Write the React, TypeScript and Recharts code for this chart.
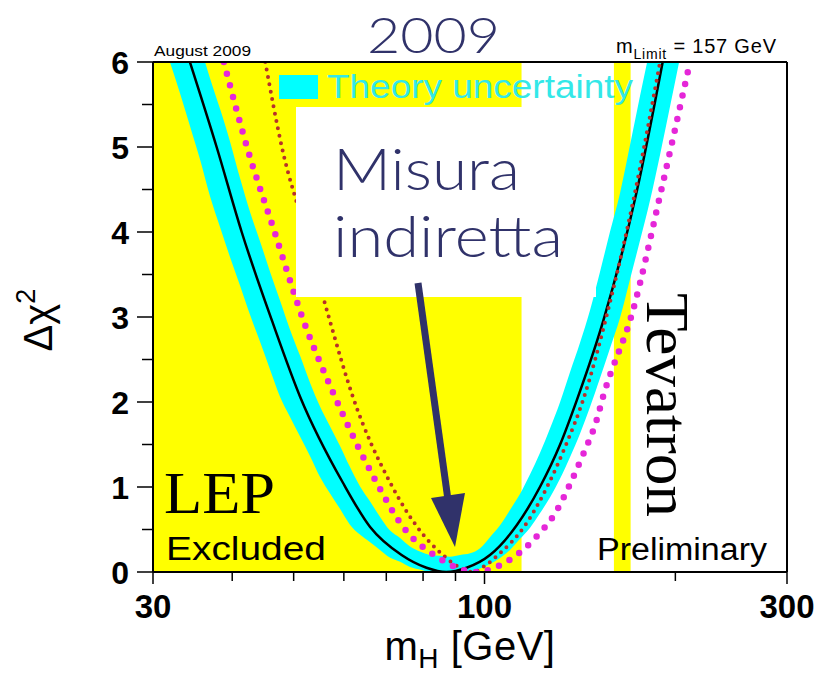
import { ComposedChart, Area, Line, XAxis, YAxis, ReferenceArea, ReferenceLine } from 'recharts'

// mH [GeV] / delta chi^2 (August 2009)
const fitMass = [34.3, 37.8, 41.4, 46.2, 51.2, 59.8, 66, 74, 81, 87, 93.7, 102, 112.4, 122.3, 131.6, 139.8, 154, 174, 191]
const fitChi2 = [6, 5, 4, 2.96, 2.06, 1.05, 0.53, 0.2, 0.05, 0, 0.05, 0.2, 0.55, 1.0, 1.5, 2.02, 2.96, 4.49, 6]

// theory uncertainty band: lower / upper edge at each mass
const bandMass = [31.9, 33.1, 34.3, 35.6, 36.9, 38.3, 39.7, 41.2, 42.7, 44.3, 45.9, 47.6, 49.3, 51.2, 53.1, 55.0, 57.1, 59.2, 61.3, 63.6, 66.0, 68.4, 70.9, 73.6, 76.3, 79.1, 82.0, 85.1, 88.2, 91.5, 94.9, 98.4, 102, 105.8, 109.7, 113.8, 118, 122.3, 126.9, 131.6, 136.4, 141.5, 146.7, 152.1, 157.7, 163.6, 169.6, 175.9, 182.4, 189.2, 196.2, 203.4]
const bandLow = [6, 5.63, 5.25, 4.85, 4.42, 4.05, 3.7, 3.36, 3.02, 2.7, 2.38, 2.06, 1.83, 1.59, 1.36, 1.12, 0.92, 0.74, 0.56, 0.44, 0.35, 0.26, 0.17, 0.12, 0.06, 0.03, 0, 0, 0, 0, 0, 0.04, 0.095, 0.165, 0.26, 0.39, 0.52, 0.69, 0.88, 1.1, 1.35, 1.63, 1.94, 2.28, 2.63, 2.99, 3.44, 3.9, 4.37, 4.91, 5.48, 6.05]
const bandHigh = [7.1, 6.9, 6.56, 6.19, 5.81, 5.44, 5.06, 4.62, 4.23, 3.88, 3.53, 3.19, 2.86, 2.54, 2.22, 1.95, 1.71, 1.48, 1.24, 1.01, 0.83, 0.65, 0.49, 0.4, 0.3, 0.24, 0.2, 0.19, 0.18, 0.2, 0.22, 0.28, 0.41, 0.55, 0.73, 0.92, 1.15, 1.4, 1.69, 2.0, 2.35, 2.7, 3.08, 3.53, 4.0, 4.46, 5.02, 5.6, 6.16, 6.75, 7.3, 7.9]

// red dotted curve
const redMass = [45.1, 47.9, 52.2, 57.0, 62.0, 71.0, 78.5, 86, 91, 96, 100, 105, 115.9, 125.5, 134.5, 143, 156.6, 172, 189.2]
const redChi2 = [6, 5, 4, 2.96, 2.06, 1.05, 0.52, 0.2, 0.06, 0, 0.07, 0.2, 0.55, 1.0, 1.5, 2.02, 3.08, 4.4, 6]

// magenta dotted curve
const magMass = [38.8, 42.2, 46.7, 51.8, 58.1, 67.6, 74.4, 84.1, 89.8, 97.2, 104.5, 112.4, 120.9, 129.2, 137.3, 143, 150.3, 153.8, 171.5, 190, 210.9]
const magChi2 = [6, 5, 3.99, 2.96, 2.06, 1.05, 0.53, 0.18, 0.06, 0, 0.06, 0.2, 0.42, 0.69, 1.08, 1.38, 1.79, 2.06, 3.08, 4.49, 6]

const lepLimit = 114.4
const tevatronExcluded = [160, 170]

const xTicks = [30, 40, 50, 60, 70, 80, 90, 100, 200, 300]
const xLabels = [30, 100, 300]
const yTicks = [0, 0.5, 1, 1.5, 2, 2.5, 3, 3.5, 4, 4.5, 5, 5.5, 6]
const yLabels = [0, 1, 2, 3, 4, 5, 6]

const fitData = fitMass.map((m, i) => ({ m, v: fitChi2[i] }))
const bandData = bandMass.map((m, i) => ({ m, band: [bandLow[i], bandHigh[i]] }))
const redData = redMass.map((m, i) => ({ m, v: redChi2[i] }))
const magData = magMass.map((m, i) => ({ m, v: magChi2[i] }))

const sans = 'Liberation Sans, Arial, Helvetica, sans-serif'
const serif = 'Liberation Serif, Times New Roman, serif'
const hand = 'Lato, Open Sans, sans-serif'
const navy = '#30326a'

const XTick = (props: any) => {
  const { x, y, payload } = props
  const major = xLabels.includes(payload.value)
  return (
    <g>
      <line x1={x} x2={x} y1={y} y2={y + (major ? 12 : 9)} stroke="#000" strokeWidth={1.5} />
      {major && (
        <text x={x} y={y + 46} textAnchor="middle" fontFamily={sans} fontWeight="bold" fontSize={33} fill="#000">
          {payload.value}
        </text>
      )}
    </g>
  )
}

const YTick = (props: any) => {
  const { x, y, payload } = props
  const major = yLabels.includes(payload.value)
  return (
    <g>
      <line x1={x} x2={x - (major ? 16 : 11)} y1={y} y2={y} stroke="#000" strokeWidth={1.5} />
      {major && (
        <text x={x - 24} y={y + 12} textAnchor="end" fontFamily={sans} fontWeight="bold" fontSize={32} fill="#000">
          {payload.value}
        </text>
      )}
    </g>
  )
}

const RightTick = (props: any) => {
  const { x, y } = props
  return <line x1={x} x2={x - 17} y1={y} y2={y} stroke="#000" strokeWidth={1.5} />
}

export default function App() {
  return (
    <div style={{ position: 'absolute', left: 0, top: 0, width: 819, height: 679, background: '#fff' }}>
      <ComposedChart width={819} height={679} margin={{ top: 62, right: 0, bottom: 0, left: 0 }}>
        <XAxis
          dataKey="m"
          type="number"
          scale="log"
          domain={[30, 300]}
          ticks={xTicks}
          allowDataOverflow
          height={107}
          tickSize={0}
          tickMargin={0}
          tick={<XTick />}
          axisLine={{ stroke: '#000', strokeWidth: 2 }}
          tickLine={false}
        />
        <YAxis
          type="number"
          domain={[0, 6]}
          ticks={yTicks}
          allowDataOverflow
          width={153}
          tickSize={0}
          tickMargin={0}
          tick={<YTick />}
          axisLine={{ stroke: '#000', strokeWidth: 2 }}
          tickLine={false}
        />
        <YAxis
          yAxisId="right"
          orientation="right"
          type="number"
          domain={[0, 6]}
          ticks={yTicks}
          width={32}
          tickSize={0}
          tickMargin={0}
          tick={<RightTick />}
          axisLine={{ stroke: '#000', strokeWidth: 2 }}
          tickLine={false}
        />
        <ReferenceArea x1={30} x2={lepLimit} y1={0} y2={6} fill="#ffff00" fillOpacity={1} stroke="none" zIndex={-10} />
        <ReferenceArea x1={tevatronExcluded[0]} x2={tevatronExcluded[1]} y1={0} y2={6} fill="#ffff00" fillOpacity={1} stroke="none" zIndex={-10} />
        <Area data={bandData} dataKey="band" type="monotone" stroke="none" fill="#00ffff" fillOpacity={1} isAnimationActive={false} dot={false} activeDot={false} />
        <Line data={fitData} dataKey="v" type="monotone" stroke="#000" strokeWidth={2.5} dot={false} activeDot={false} isAnimationActive={false} />
        <Line data={redData} dataKey="v" type="monotone" stroke="#b8302a" strokeWidth={4} strokeDasharray="0 7.5" strokeLinecap="round" dot={false} activeDot={false} isAnimationActive={false} />
        <Line data={magData} dataKey="v" type="monotone" stroke="#e526d8" strokeWidth={6.5} strokeDasharray="0 12" strokeLinecap="round" dot={false} activeDot={false} isAnimationActive={false} />
        <ReferenceLine y={6} stroke="#000" strokeWidth={2} />
      </ComposedChart>

      <svg width={819} height={679} style={{ position: 'absolute', left: 0, top: 0, pointerEvents: 'none' }}>
        {/* plot annotations */}
        <text x={154} y={56} fontFamily={sans} fontSize={14} textLength={97} lengthAdjust="spacingAndGlyphs">August 2009</text>
        <text x={616} y={53} fontFamily={sans} fontSize={20} letterSpacing={0.8}>
          m<tspan dy={6} fontSize={14}>Limit</tspan>
          <tspan dy={-6}> = 157 GeV</tspan>
        </text>
        <rect x={279} y={75} width={39} height={24} fill="#00ffff" />
        <text x={327} y={98} fontFamily={sans} fontSize={33} fill="#33e8e8" textLength={306} lengthAdjust="spacingAndGlyphs">Theory uncertainty</text>
        <text x={166} y={560} fontFamily={sans} fontSize={34} textLength={160} lengthAdjust="spacingAndGlyphs">Excluded</text>
        <text x={597} y={560} fontFamily={sans} fontSize={31} textLength={170} lengthAdjust="spacingAndGlyphs">Preliminary</text>
        <text x={164} y={513} fontFamily={serif} fontSize={60} textLength={111} lengthAdjust="spacingAndGlyphs">LEP</text>
        <text transform="translate(647,293) rotate(90)" fontFamily={serif} fontSize={62} textLength={224} lengthAdjust="spacingAndGlyphs">Tevatron</text>

        {/* axis titles */}
        <text transform="translate(52,320) rotate(-90)" textAnchor="middle" fontFamily={sans} fontSize={40}>
          Δχ<tspan dy={-17} fontSize={27}>2</tspan>
        </text>
        <text x={470} y={660} textAnchor="middle" fontFamily={sans} fontSize={40} letterSpacing={0.5}>
          m<tspan dy={8} fontSize={28}>H</tspan>
          <tspan dy={-8}> [GeV]</tspan>
        </text>

        {/* slide overlay */}
        <text x={367} y={53} fontFamily={hand} fontWeight={300} fontSize={50} fill={navy} textLength={133} lengthAdjust="spacingAndGlyphs">2009</text>
        <rect x={296} y={107} width={300} height={190} fill="#fff" />
        <text x={333} y={190} fontFamily={hand} fontWeight={300} fontSize={58} fill={navy} textLength={187} lengthAdjust="spacingAndGlyphs">Misura</text>
        <text x={333} y={257} fontFamily={hand} fontWeight={300} fontSize={58} fill={navy} textLength={230} lengthAdjust="spacingAndGlyphs">indiretta</text>
        <line x1={418} y1={283} x2={448} y2={500} stroke={navy} strokeWidth={7} />
        <polygon points="455,547 431,498 465,493" fill={navy} />
      </svg>
    </div>
  )
}
